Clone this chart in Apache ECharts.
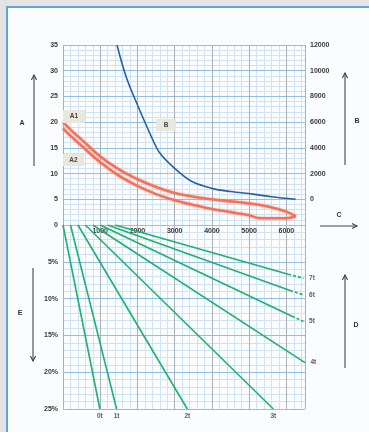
<!DOCTYPE html>
<html><head><meta charset="utf-8">
<script src="https://cdn.jsdelivr.net/npm/echarts@6/dist/echarts.min.js"></script>
<style>html,body{margin:0;padding:0;background:#e4e4e4;}#c{width:369px;height:432px;}</style>
</head><body><div id="c"></div>
<script>
// ---- data ----
const curveA1X = [0,250,500,1000,1500,2000,2500,3000,3500,4000,4500,5000,5500,6000,6250];
const curveA1Y = [20,18.2,16.6,13.3,10.8,8.9,7.4,6.2,5.5,5.0,4.6,4.2,3.6,2.6,1.7];
const curveA2X = [0,250,500,1000,1500,2000,2500,3000,3500,4000,4500,5000,5250,5500,6000,6250];
const curveA2Y = [18.8,17.0,15.4,12.2,9.6,7.6,6.0,4.8,3.9,3.1,2.5,1.9,1.35,1.3,1.3,1.7];
const curveBX = [1450,1700,2050,2400,2600,3000,3450,4000,4500,5100,5600,6250];
const curveBY = [12000,9500,7000,4700,3600,2400,1400,850,600,400,200,0];
const loadNames = ['0t','1t','2t','3t','4t','5t','6t','7t'];
const loadStartX = [0,200,400,600,800,1000,1200,1400];
const loadEndX = [990,1440,3340,5650,6500,6460,6460,6460];
const loadEndY = [25,25,25,25,18.7,13.1,9.5,7.25];
const loadDashX = [null,null,null,null,null,6150,6100,6050];
const loadDashY = [null,null,null,null,null,12.4,8.9,6.7];
const xLabelValues = [1000,2000,3000,4000,5000,6000];

// ---- styles ----
const FONT = 'Liberation Sans';
const LBL = {fontSize:7, fontWeight:'bold', color:'#3a3a3a', fontFamily:FONT};
const MINOR = '#cfe3f2', MAJOR_H = '#93bfe0', MAJOR_V = '#a9b1b9';
const GREEN = '#1fb072', RED = '#f2735a', BLUE = '#2560a8';

const zip = (xs, ys) => xs.map((x,i)=>[x, ys[i]]);

const series = [
  {type:'line', name:'A1', xAxisIndex:0, yAxisIndex:0, data:zip(curveA1X,curveA1Y), smooth:0.4, showSymbol:false, silent:true,
   lineStyle:{color:RED, width:2.6, shadowColor:'rgba(242,115,90,0.45)', shadowBlur:3}, z:4},
  {type:'line', name:'A2', xAxisIndex:0, yAxisIndex:0, data:zip(curveA2X,curveA2Y), smooth:0.4, showSymbol:false, silent:true,
   lineStyle:{color:RED, width:2.6, shadowColor:'rgba(242,115,90,0.45)', shadowBlur:3}, z:4},
  {type:'line', name:'B', xAxisIndex:0, yAxisIndex:2, data:zip(curveBX,curveBY), smooth:0.35, showSymbol:false, silent:true,
   lineStyle:{color:BLUE, width:1.6}, z:4}
];
loadNames.forEach((n,i)=>{
  const hasDash = loadDashX[i] != null;
  const solidEnd = hasDash ? [loadDashX[i], loadDashY[i]] : [loadEndX[i], loadEndY[i]];
  series.push({type:'line', name:n, xAxisIndex:2, yAxisIndex:3, data:[[loadStartX[i],0], solidEnd],
    showSymbol:false, silent:true, lineStyle:{color:GREEN, width:1.6}, z:4});
  if (hasDash) series.push({type:'line', name:n+'-end', xAxisIndex:2, yAxisIndex:3,
    data:[[loadDashX[i],loadDashY[i]],[loadEndX[i],loadEndY[i]]], showSymbol:false, silent:true,
    lineStyle:{color:GREEN, width:1.6, type:[3,2]}, z:4});
});
const bottomEnds = [], rightEnds = [];
loadNames.forEach((n,i)=>{
  const item = {name:n, value:[loadEndX[i], loadEndY[i]]};
  (loadEndY[i] >= 25 ? bottomEnds : rightEnds).push(item);
});
const tLabel = {show:true, formatter:p=>p.name, fontSize:6.5, fontWeight:'bold', color:'#333', fontFamily:FONT};
series.push({type:'scatter', xAxisIndex:2, yAxisIndex:3, data:bottomEnds, symbolSize:1, itemStyle:{color:'rgba(0,0,0,0)'},
  label:Object.assign({position:'bottom', distance:3}, tLabel), silent:true, z:5});
series.push({type:'scatter', xAxisIndex:2, yAxisIndex:3, data:rightEnds, symbolSize:1, itemStyle:{color:'rgba(0,0,0,0)'},
  label:Object.assign({position:'right', distance:5}, tLabel), silent:true, z:5});

// ---- graphic annotations ----
const ARW = {stroke:'#444', lineWidth:1.1, fill:null};
function arrow(x1,y1,x2,y2){
  const dx=x2-x1, dy=y2-y1, L=Math.hypot(dx,dy), ux=dx/L, uy=dy/L, h=5, w=2.6;
  const bx=x2-ux*h, by=y2-uy*h;
  return [
    {type:'line', shape:{x1,y1,x2,y2}, style:ARW, z:10},
    {type:'polyline', shape:{points:[[bx-uy*w,by+ux*w],[x2,y2],[bx+uy*w,by-ux*w]]}, style:ARW, z:10}
  ];
}
function letter(t,x,y){ return {type:'text', x, y, style:{text:t, fontSize:7, fontWeight:'bold', fill:'#333', fontFamily:FONT, align:'center', verticalAlign:'middle'}, z:10}; }
function tag(t,x,y,w,h){ return [
  {type:'rect', shape:{x,y,width:w,height:h}, style:{fill:'#e8e8df'}, z:6},
  {type:'text', x:x+w/2, y:y+h/2, style:{text:t, fontSize:6.5, fontWeight:'bold', fill:'#444', fontFamily:FONT, align:'center', verticalAlign:'middle'}, z:7}
];}

const graphic = [
  {type:'rect', shape:{x:7,y:7,width:420,height:480}, style:{fill:'#fbfcfe', stroke:'#5aa8d8', lineWidth:2}, z:-100, silent:true},
  ...arrow(34,166,34,75), ...arrow(345,165,345,73), ...arrow(320,226,357,226),
  ...arrow(33,268,33,361), ...arrow(345,368,345,275),
  letter('A',22,123), letter('B',357,121), letter('C',339,215), letter('D',356,325), letter('E',20,313),
  ...tag('A1',63,110,22,13), ...tag('A2',63,154,21,12), ...tag('B',156,119,20,12)
];

const gridTop = {left:63, right:64, top:45, height:180};
const gridBot = {left:63, right:64, top:225, height:184};

const option = {
  animation:false,
  backgroundColor:'#e4e4e4',
  grid:[gridTop, gridBot],
  xAxis:[
    {type:'value', gridIndex:0, min:0, max:6500, interval:1000, position:'bottom', z:2,
     axisLine:{show:true, lineStyle:{color:'#9aa3ab', width:1}}, axisTick:{show:false},
     axisLabel:Object.assign({margin:3, showMinLabel:true, showMaxLabel:true,
       formatter:v=> xLabelValues.indexOf(v) >= 0 ? String(v) : ''}, LBL),
     splitLine:{show:true, lineStyle:{color:MAJOR_V, width:1}}},
    {type:'value', gridIndex:0, min:0, max:6500, interval:200, position:'top', z:1,
     axisLine:{show:false}, axisTick:{show:false}, axisLabel:{show:false},
     splitLine:{show:true, lineStyle:{color:MINOR, width:1}}},
    {type:'value', gridIndex:1, min:0, max:6500, interval:1000, position:'bottom', z:2,
     axisLine:{show:true, lineStyle:{color:'#a5bccf', width:1}}, axisTick:{show:false}, axisLabel:{show:false},
     splitLine:{show:true, lineStyle:{color:MAJOR_V, width:1}}},
    {type:'value', gridIndex:1, min:0, max:6500, interval:200, position:'top', z:1,
     axisLine:{show:false}, axisTick:{show:false}, axisLabel:{show:false},
     splitLine:{show:true, lineStyle:{color:MINOR, width:1}}}
  ],
  yAxis:[
    {type:'value', gridIndex:0, min:0, max:35, interval:5, position:'left', z:2,
     axisLine:{show:false}, axisTick:{show:false},
     axisLabel:Object.assign({margin:5, showMinLabel:true, showMaxLabel:true}, LBL),
     splitLine:{show:true, lineStyle:{color:MAJOR_H, width:1}}},
    {type:'value', gridIndex:0, min:0, max:35, interval:1, position:'left', z:1,
     axisLine:{show:false}, axisTick:{show:false}, axisLabel:{show:false},
     splitLine:{show:true, lineStyle:{color:MINOR, width:1}}},
    {type:'value', gridIndex:0, min:-2000, max:12000, interval:2000, position:'right', z:2,
     axisLine:{show:false}, axisTick:{show:false},
     axisLabel:Object.assign({margin:5, showMaxLabel:true, formatter:v=> v>=0 ? String(v) : ''}, LBL),
     splitLine:{show:false}},
    {type:'value', gridIndex:1, min:0, max:25, interval:5, inverse:true, position:'left', z:2,
     axisLine:{show:false}, axisTick:{show:false},
     axisLabel:Object.assign({margin:5, showMaxLabel:true, formatter:v=> v>0 ? v+'%' : ''}, LBL),
     splitLine:{show:true, lineStyle:{color:MAJOR_H, width:1}}},
    {type:'value', gridIndex:1, min:0, max:25, interval:1, inverse:true, position:'left', z:1,
     axisLine:{show:false}, axisTick:{show:false}, axisLabel:{show:false},
     splitLine:{show:true, lineStyle:{color:MINOR, width:1}}}
  ],
  graphic: graphic,
  series: series
};
const chart = echarts.init(document.getElementById('c'), null, {renderer:'canvas'});
chart.setOption(option);
</script></body></html>
